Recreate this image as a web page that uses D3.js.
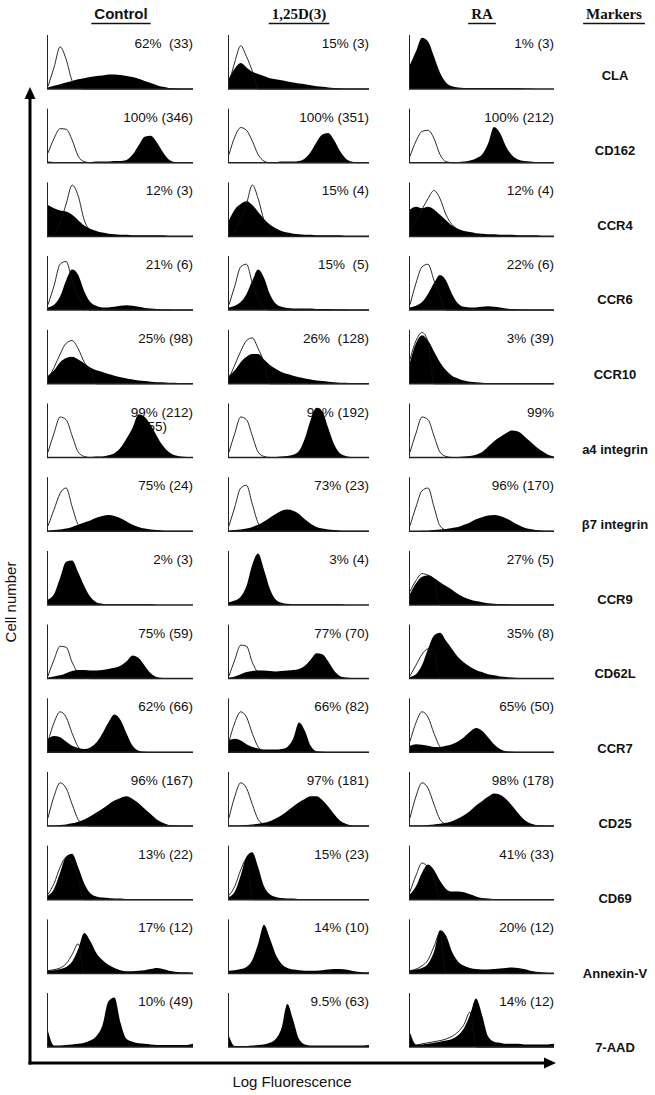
<!DOCTYPE html>
<html>
<head>
<meta charset="utf-8">
<title>Flow cytometry histograms</title>
<style>
body { margin: 0; background: #fff; }
svg { display: block; }
.pct { font-family: "Liberation Sans", Arial, sans-serif; font-size: 13.5px; fill: #111; white-space: pre; }
.marker { font-family: "Liberation Sans", Arial, sans-serif; font-size: 13px; font-weight: bold; fill: #111; }
.head-sans { font-family: "Liberation Sans", Arial, sans-serif; font-size: 15px; font-weight: bold; fill: #111; }
.head-serif { font-family: "Liberation Serif", "Times New Roman", serif; font-size: 15px; font-weight: bold; fill: #111; }
.axis-title { font-family: "Liberation Sans", Arial, sans-serif; font-size: 15px; fill: #111; }
</style>
</head>
<body>
<svg id="chart" width="655" height="1095"></svg>
<script src="https://d3js.org/d3.v7.min.js"></script>
<script>

const conditions = ["Control", "1,25D(3)", "RA", "Markers"];
const markers = ["CLA", "CD162", "CCR4", "CCR6", "CCR10", "a4 integrin", "\u03b27 integrin",
  "CCR9", "CD62L", "CCR7", "CD25", "CD69", "Annexin-V", "7-AAD"];

// percent positive (MFI) per marker, columns Control / 1,25D(3) / RA
const pctLabels = [
  ["62%  (33)", "15% (3)", "1% (3)"],
  ["100% (346)", "100% (351)", "100% (212)"],
  ["12% (3)", "15% (4)", "12% (4)"],
  ["21% (6)", "15%  (5)", "22% (6)"],
  ["25% (98)", "26%  (128)", "3% (39)"],
  ["99% (212)", "98% (192)", "99%"],
  ["75% (24)", "73% (23)", "96% (170)"],
  ["2% (3)", "3% (4)", "27% (5)"],
  ["75% (59)", "77% (70)", "35% (8)"],
  ["62% (66)", "66% (82)", "65% (50)"],
  ["96% (167)", "97% (181)", "98% (178)"],
  ["13% (22)", "15% (23)", "41% (33)"],
  ["17% (12)", "14% (10)", "20% (12)"],
  ["10% (49)", "9.5% (63)", "14% (12)"]
];
const extraLabel = { row: 5, col: 0, text: "(655)" };

// stained histograms (filled), 25 channels on log scale, % of panel height
const fillControl = [
  [3,6,9,12,15,18,20,22,24,25,27,27,26,24,22,19,15,11,7,4,2,1,0,0,0],
  [2,1,1,1,1,1,1,1,2,2,2,3,3,5,15,32,48,50,38,20,6,1,0,0,0],
  [58,52,48,46,40,30,20,14,10,7,5,4,3,3,2,2,2,2,2,2,1,1,1,1,1],
  [5,10,25,55,75,65,35,15,8,5,5,6,8,9,8,6,4,3,2,1,1,0,0,0,0],
  [15,25,40,48,50,45,38,30,25,22,18,15,12,10,8,6,5,4,3,3,2,2,1,1,1],
  [0,0,0,0,0,0,1,1,2,2,4,8,18,35,55,80,75,60,40,22,10,4,2,1,0],
  [1,2,3,5,8,12,16,20,25,28,30,28,24,18,12,8,5,3,2,1,0,0,0,0,0],
  [10,20,50,80,82,60,35,15,5,2,1,1,1,1,1,1,1,1,0,0,0,0,0,0,0],
  [2,4,6,10,14,16,16,15,15,16,18,20,24,32,43,38,24,10,3,1,0,0,0,0,0],
  [25,30,28,20,12,8,6,9,18,35,55,70,60,35,12,3,1,0,0,0,0,0,0,0,0],
  [1,1,2,3,5,8,12,18,25,32,40,47,52,55,50,42,32,22,12,6,2,1,0,0,0],
  [8,20,50,80,85,60,30,12,6,4,3,2,2,1,1,1,1,0,0,0,0,0,0,0,0],
  [5,6,8,12,22,45,75,60,38,25,16,10,6,4,4,5,6,8,10,8,5,3,2,2,1],
  [30,3,3,4,5,6,8,12,20,40,85,92,45,15,10,7,6,5,4,4,4,4,4,4,6]
];
const fillVitD = [
  [20,38,48,40,32,28,24,20,18,16,14,12,10,9,7,5,4,3,2,1,0,0,0,0,0],
  [0,0,0,0,1,1,1,1,1,2,2,2,3,8,20,38,52,55,42,22,8,2,0,0,0],
  [30,50,60,65,58,45,32,22,15,10,7,5,4,3,3,2,2,2,2,2,1,1,1,1,1],
  [5,8,15,30,55,75,60,30,12,6,4,3,3,3,3,2,2,2,1,1,1,0,0,0,0],
  [15,25,40,50,55,55,45,35,28,22,18,15,12,10,8,6,5,4,3,2,2,1,1,1,0],
  [0,0,0,0,0,0,0,1,1,2,3,5,12,35,70,92,85,55,25,8,3,1,0,0,0],
  [1,2,3,5,8,12,18,25,32,38,40,38,32,22,14,8,5,3,2,1,0,0,0,0,0],
  [5,8,15,35,75,95,65,30,10,4,2,1,1,1,1,1,1,1,1,1,0,0,0,0,0],
  [2,4,8,12,14,15,15,14,13,14,15,16,18,24,35,47,45,32,15,5,2,1,0,0,0],
  [22,25,22,15,10,7,5,5,5,6,10,25,55,40,12,2,1,0,0,0,0,0,0,0,0],
  [1,1,1,2,3,4,6,9,14,20,28,36,44,50,55,55,48,36,22,10,4,1,0,0,0],
  [5,15,45,80,88,60,25,10,5,3,2,2,1,1,1,1,1,0,0,0,0,0,0,0,0],
  [5,6,8,12,25,55,90,65,35,18,10,7,6,5,5,5,6,7,8,8,7,5,3,2,2],
  [20,2,2,2,3,4,5,8,15,35,80,50,15,5,3,3,3,3,3,3,3,3,3,3,4]
];
const fillRA = [
  [45,70,95,88,60,30,12,5,3,2,2,2,2,2,2,2,2,2,2,1,1,0,0,0,0],
  [0,0,0,0,0,1,1,1,1,2,4,8,15,35,66,55,30,14,6,3,2,1,1,0,0],
  [50,55,52,55,50,40,30,20,14,10,8,6,5,4,4,3,3,3,2,2,2,2,1,1,1],
  [5,8,15,30,50,65,55,30,12,6,5,5,6,7,6,5,3,2,1,1,0,0,0,0,0],
  [40,75,90,80,60,40,25,15,10,6,4,3,2,1,1,0,0,0,0,0,0,0,0,0,0],
  [0,0,0,0,0,0,0,1,1,2,3,5,10,20,30,38,45,50,48,40,30,20,12,5,2],
  [0,0,1,1,2,3,4,6,8,12,16,22,26,29,30,28,24,18,12,7,4,2,1,0,0],
  [20,40,52,55,50,42,35,28,20,14,10,7,5,3,2,1,1,0,0,0,0,0,0,0,0],
  [3,8,25,55,80,85,70,55,40,30,22,16,12,8,6,4,3,2,1,1,0,0,0,0,0],
  [12,15,14,12,10,10,12,15,20,28,38,45,40,28,15,6,2,1,0,0,0,0,0,0,0],
  [1,1,1,2,3,4,6,9,14,20,28,38,46,54,60,58,50,38,24,12,5,2,1,0,0],
  [10,25,50,65,55,35,20,15,15,14,10,6,3,2,1,1,0,0,0,0,0,0,0,0,0],
  [5,7,10,18,40,80,70,40,22,14,10,8,7,7,8,9,10,11,10,8,5,3,2,1,1],
  [25,4,5,6,8,10,12,15,22,35,60,90,60,20,10,8,6,6,6,5,5,5,5,5,6]
];

// isotype control histograms (open outline); null where hidden under the fill
const openControl = [
  [5,40,78,55,15,3,0,0,0,0,0,0,0,0,0,0,0,0,0,0,0,0,0,0,0],
  [18,45,63,62,42,12,2,0,0,0,0,0,0,0,0,0,0,0,0,0,0,0,0,0,0],
  [0,5,25,60,95,75,30,10,0,0,0,0,0,0,0,0,0,0,0,0,0,0,0,0,0],
  [10,45,85,90,55,25,8,0,0,0,0,0,0,0,0,0,0,0,0,0,0,0,0,0,0],
  [10,30,55,75,80,65,40,25,0,0,0,0,0,0,0,0,0,0,0,0,0,0,0,0,0],
  [10,45,75,70,40,10,2,0,0,0,0,0,0,0,0,0,0,0,0,0,0,0,0,0,0],
  [10,40,70,80,45,12,3,0,0,0,0,0,0,0,0,0,0,0,0,0,0,0,0,0,0],
  null,
  [5,35,60,58,30,10,2,0,0,0,0,0,0,0,0,0,0,0,0,0,0,0,0,0,0],
  [20,55,75,65,35,10,2,0,0,0,0,0,0,0,0,0,0,0,0,0,0,0,0,0,0],
  [15,55,80,70,40,12,3,0,0,0,0,0,0,0,0,0,0,0,0,0,0,0,0,0,0],
  [10,30,60,78,70,40,0,0,0,0,0,0,0,0,0,0,0,0,0,0,0,0,0,0,0],
  [5,7,10,18,35,55,0,0,0,0,0,0,0,0,0,0,0,0,0,0,0,0,0,0,0],
  null
];
const openVitD = [
  [10,50,80,60,33,0,0,0,0,0,0,0,0,0,0,0,0,0,0,0,0,0,0,0,0],
  [15,48,65,60,40,15,3,0,0,0,0,0,0,0,0,0,0,0,0,0,0,0,0,0,0],
  [0,10,30,60,95,70,30,10,0,0,0,0,0,0,0,0,0,0,0,0,0,0,0,0,0],
  [10,45,80,85,50,20,5,0,0,0,0,0,0,0,0,0,0,0,0,0,0,0,0,0,0],
  [10,35,60,80,85,65,40,0,0,0,0,0,0,0,0,0,0,0,0,0,0,0,0,0,0],
  [10,45,75,70,40,10,2,0,0,0,0,0,0,0,0,0,0,0,0,0,0,0,0,0,0],
  [10,45,80,85,50,15,3,0,0,0,0,0,0,0,0,0,0,0,0,0,0,0,0,0,0],
  null,
  [5,35,62,60,30,10,2,0,0,0,0,0,0,0,0,0,0,0,0,0,0,0,0,0,0],
  [20,55,75,65,35,10,2,0,0,0,0,0,0,0,0,0,0,0,0,0,0,0,0,0,0],
  [15,55,80,70,40,12,3,0,0,0,0,0,0,0,0,0,0,0,0,0,0,0,0,0,0],
  [8,25,55,75,0,0,0,0,0,0,0,0,0,0,0,0,0,0,0,0,0,0,0,0,0],
  null,
  null
];
const openRA = [
  null,
  [12,40,58,60,45,15,2,0,0,0,0,0,0,0,0,0,0,0,0,0,0,0,0,0,0],
  [10,30,50,70,85,70,40,22,12,0,0,0,0,0,0,0,0,0,0,0,0,0,0,0,0],
  [10,50,80,85,55,25,0,0,0,0,0,0,0,0,0,0,0,0,0,0,0,0,0,0,0],
  [45,80,95,78,0,0,0,0,0,0,0,0,0,0,0,0,0,0,0,0,0,0,0,0,0],
  [10,45,75,70,40,10,2,0,0,0,0,0,0,0,0,0,0,0,0,0,0,0,0,0,0],
  [10,45,75,80,45,10,2,0,0,0,0,0,0,0,0,0,0,0,0,0,0,0,0,0,0],
  [25,45,58,55,48,0,0,0,0,0,0,0,0,0,0,0,0,0,0,0,0,0,0,0,0],
  [5,25,45,55,50,0,0,0,0,0,0,0,0,0,0,0,0,0,0,0,0,0,0,0,0],
  [20,55,75,65,35,10,2,0,0,0,0,0,0,0,0,0,0,0,0,0,0,0,0,0,0],
  [15,55,80,70,40,12,3,0,0,0,0,0,0,0,0,0,0,0,0,0,0,0,0,0,0],
  [15,45,68,60,40,0,0,0,0,0,0,0,0,0,0,0,0,0,0,0,0,0,0,0,0],
  [5,8,14,25,50,75,0,0,0,0,0,0,0,0,0,0,0,0,0,0,0,0,0,0,0],
  [25,4,6,8,10,12,15,20,28,42,65,0,0,0,0,0,0,0,0,0,0,0,0,0,0]
];

const fills = [fillControl, fillVitD, fillRA];
const opens = [openControl, openVitD, openRA];

// layout
const colLeft = [47, 228, 409];
const colWidth = [146, 141, 145];
const rowTop0 = 35, rowPitch = 73.7, panelH = 54;
const markerX = 615, markerY0 = 80, markerPitch = 74.8;

const svg = d3.select("#chart");

const rowScale = d3.scaleLinear().domain([0, 1]).range([rowTop0, rowTop0 + rowPitch]);
const yScale = d3.scaleLinear().domain([0, 100]).range([panelH, 0]);

// headers
const headX = [121, 299, 482, 614];
conditions.forEach((c, i) => {
  const t = svg.append("text")
    .attr("class", i === 0 ? "head-sans" : "head-serif")
    .attr("x", headX[i])
    .attr("y", 19)
    .attr("text-anchor", "middle")
    .text(c);
  const w = t.node().getComputedTextLength();
  svg.append("line")
    .attr("x1", headX[i] - w / 2 - 3)
    .attr("x2", headX[i] + w / 2 + 3)
    .attr("y1", 23.5).attr("y2", 23.5)
    .attr("stroke", "#111")
    .attr("stroke-width", 1.5);
});

// panels
markers.forEach((m, r) => {
  const top = rowScale(r);
  for (let c = 0; c < 3; c++) {
    const w = colWidth[c];
    const g = svg.append("g").attr("transform", `translate(${colLeft[c]},${top})`);
    const xScale = d3.scaleLinear().domain([0, fills[c][r].length - 1]).range([1, w]);

    g.append("text")
      .attr("class", "pct")
      .attr("x", w)
      .attr("y", 13)
      .attr("text-anchor", "end")
      .text(pctLabels[r][c]);
    if (extraLabel.row === r && extraLabel.col === c) {
      g.append("text")
        .attr("class", "pct")
        .attr("x", w - 26)
        .attr("y", 27)
        .attr("text-anchor", "end")
        .text(extraLabel.text);
    }

    const area = d3.area()
      .x((d, i) => xScale(i))
      .y0(panelH)
      .y1(d => yScale(d))
      .curve(d3.curveMonotoneX);
    g.append("path")
      .datum(fills[c][r])
      .attr("fill", "#000")
      .attr("d", area);

    if (opens[c][r]) {
      const line = d3.line()
        .x((d, i) => xScale(i))
        .y(d => yScale(d))
        .curve(d3.curveMonotoneX);
      g.append("path")
        .datum(opens[c][r])
        .attr("fill", "none")
        .attr("stroke", "#111")
        .attr("stroke-width", 0.9)
        .attr("d", line);
    }

    // panel axes
    g.append("line")
      .attr("x1", 0.5).attr("x2", 0.5)
      .attr("y1", 0).attr("y2", panelH)
      .attr("stroke", "#222").attr("stroke-width", 1);
    g.append("line")
      .attr("x1", 0).attr("x2", w)
      .attr("y1", panelH).attr("y2", panelH)
      .attr("stroke", "#222").attr("stroke-width", 1.5);
  }

  svg.append("text")
    .attr("class", "marker")
    .attr("x", markerX)
    .attr("y", markerY0 + r * markerPitch)
    .attr("text-anchor", "middle")
    .text(m);
});

// big axes with arrows
const axX = 30, axY = 1063, tipY = 87, tipX = 556;
svg.append("line")
  .attr("x1", axX).attr("x2", axX)
  .attr("y1", axY + 1.5).attr("y2", tipY + 10)
  .attr("stroke", "#000").attr("stroke-width", 3);
svg.append("path")
  .attr("d", `M${axX},${tipY} L${axX - 5.5},${tipY + 12} L${axX + 5.5},${tipY + 12} Z`)
  .attr("fill", "#000");
svg.append("line")
  .attr("x1", axX - 1.5).attr("x2", tipX - 10)
  .attr("y1", axY).attr("y2", axY)
  .attr("stroke", "#000").attr("stroke-width", 3);
svg.append("path")
  .attr("d", `M${tipX},${axY} L${tipX - 12},${axY - 5.5} L${tipX - 12},${axY + 5.5} Z`)
  .attr("fill", "#000");

svg.append("text")
  .attr("class", "axis-title")
  .attr("transform", "translate(16,602) rotate(-90)")
  .attr("text-anchor", "middle")
  .text("Cell number");
svg.append("text")
  .attr("class", "axis-title")
  .attr("x", 292)
  .attr("y", 1087)
  .attr("text-anchor", "middle")
  .text("Log Fluorescence");

</script>
</body>
</html>
